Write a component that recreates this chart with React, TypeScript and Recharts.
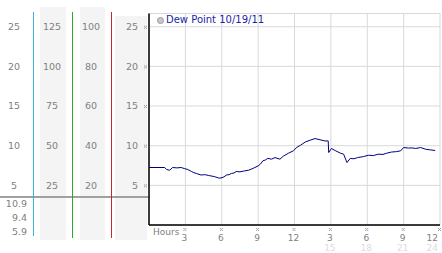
import React from 'react';
import { LineChart, Line, XAxis, YAxis, CartesianGrid } from 'recharts';

const seriesName = 'Dew Point 10/19/11';

const hours = [
  0, 1.3, 1.45, 1.7, 1.95, 2.3, 2.65, 2.95, 3.2, 3.5, 3.7, 3.9, 4.3, 4.6, 4.9, 5.4, 5.8, 6.1,
  6.4, 6.6, 6.8, 7.0, 7.2, 7.5, 7.8, 8.2, 8.6, 9.0, 9.2, 9.4, 9.6, 9.8, 10.1, 10.4, 10.8, 11.1,
  11.5, 11.9, 12.2, 12.5, 12.9, 13.3, 13.7, 14.1, 14.5, 14.78, 14.82, 15.05, 15.4, 15.8, 16.05,
  16.33, 16.6, 16.9, 17.2, 17.7, 18.1, 18.5, 18.9, 19.3, 19.6, 20.0, 20.4, 20.75, 21.0, 21.4,
  21.7, 22.0, 22.4, 22.8, 23.2, 23.6,
];

const dewPoint = [
  7.25, 7.25, 7.0, 6.9, 7.25, 7.2, 7.25, 7.1, 7.0, 6.75, 6.6, 6.5, 6.3, 6.35, 6.25, 6.1, 5.9, 6.0,
  6.3, 6.35, 6.5, 6.55, 6.75, 6.7, 6.8, 6.9, 7.15, 7.45, 7.7, 8.1, 8.2, 8.4, 8.3, 8.5, 8.3, 8.7,
  9.05, 9.35, 9.8, 10.06, 10.48, 10.7, 10.9, 10.75, 10.6, 10.6, 9.14, 9.65, 9.35, 9.05, 8.93,
  7.88, 8.4, 8.35, 8.5, 8.63, 8.8, 8.75, 8.93, 8.9, 9.05, 9.2, 9.25, 9.35, 9.77, 9.7,
  9.72, 9.65, 9.77, 9.56, 9.47, 9.4,
];

const summaryValues = ['10.9', '9.4', '5.9'];

const yTicks = [5, 10, 15, 20, 25];
const hourTicks = [3, 6, 9, 12, 15, 18, 21, 24];
const hourLabels = ['3', '6', '9', '12', '3', '6', '9', '12'];
const hour24Labels = ['', '', '', '', '15', '18', '21', '24'];

const data = hours.map((h, i) => ({ hour: h, dew: dewPoint[i] }));

const FONT = '"DejaVu Sans", Verdana, sans-serif';
const LABEL = '#808080';

function Marker({ x, y }: { x: number; y: number }) {
  const pts = [
    [0, 0],
    [2, 0],
    [1, 1],
    [0, 2],
    [2, 2],
  ];
  return (
    <g>
      {pts.map(([dx, dy], i) => (
        <rect key={i} x={x + dx} y={y + dy} width={1} height={1} fill="#a0a0a0" />
      ))}
    </g>
  );
}

function LeftTick(props: any) {
  const { y, payload } = props;
  const v = payload.value as number;
  const t = { fontFamily: FONT, fontSize: 9.5, fill: LABEL };
  return (
    <g>
      <text x={14} y={y} dy="0.35em" textAnchor="middle" {...t}>{v}</text>
      <text x={52} y={y} dy="0.35em" textAnchor="middle" {...t}>{v * 5}</text>
      <text x={91} y={y} dy="0.35em" textAnchor="middle" {...t}>{v * 4}</text>
      <text x={138} y={y} dy="0.35em" textAnchor="end" {...t}>{v}</text>
      <Marker x={144} y={y - 1} />
    </g>
  );
}

function HourTick(props: any) {
  const { x, payload, index } = props;
  const last = index === hourTicks.length - 1;
  const t = {
    fontFamily: FONT,
    fontSize: 9,
    textAnchor: last ? ('end' as const) : ('middle' as const),
  };
  const tx = last ? x - 2 : x - 1;
  return (
    <g>
      <Marker x={x - 2} y={228} />
      <text x={tx} y={237.5} dy="0.35em" fill={LABEL} {...t}>{hourLabels[index]}</text>
      <text x={tx} y={248} dy="0.35em" fill="#dcdcdc" {...t}>{hour24Labels[index]}</text>
    </g>
  );
}

const box = (style: React.CSSProperties): React.CSSProperties => ({ position: 'absolute', ...style });

export default function App() {
  return (
    <div style={{ position: 'absolute', left: 0, top: 0, width: 442, height: 253, background: '#fff', fontFamily: FONT }}>
      <div style={box({ left: 40, top: 7, width: 26, height: 233, background: '#f4f4f4' })} />
      <div style={box({ left: 80, top: 7, width: 25, height: 233, background: '#f4f4f4' })} />
      <div style={box({ left: 115, top: 16, width: 32, height: 224, background: '#f4f4f4' })} />
      <div style={box({ left: 0, top: 196, width: 150, height: 2, background: '#a0a0a0' })} />
      <div style={box({ left: 33, top: 12, width: 1, height: 224, background: '#3cb4d8' })} />
      <div style={box({ left: 72, top: 12, width: 1, height: 226, background: '#2fa62f' })} />
      <div style={box({ left: 111, top: 12, width: 1, height: 226, background: '#c02a2a' })} />
      {summaryValues.map((s, i) => (
        <div
          key={s}
          style={box({ left: 0, width: 27, top: 198 + i * 14, textAlign: 'right', fontSize: 9.5, color: LABEL, lineHeight: '12px' })}
        >
          {s}
        </div>
      ))}
      <div style={box({ left: 0, top: 0 })}>
        <LineChart width={442} height={253} data={data} margin={{ top: 13.5, right: 2, bottom: 0, left: 0 }}>
          <CartesianGrid stroke="#d9d9d9" strokeWidth={1} />
          <XAxis
            dataKey="hour"
            type="number"
            domain={[0, 24]}
            ticks={hourTicks}
            height={28}
            axisLine={{ stroke: '#000', strokeWidth: 1.5 }}
            tickLine={false}
            tick={<HourTick />}
            interval={0}
          />
          <YAxis
            type="number"
            domain={[0, 26.67]}
            ticks={yTicks}
            width={149}
            axisLine={{ stroke: '#000', strokeWidth: 1.5 }}
            tickLine={false}
            tick={<LeftTick />}
            interval={0}
          />
          <Line
            dataKey="dew"
            name={seriesName}
            type="linear"
            stroke="#00007f"
            strokeWidth={1}
            dot={false}
            isAnimationActive={false}
          />
        </LineChart>
      </div>
      <div style={box({ left: 153, top: 225, fontSize: 9, color: LABEL, lineHeight: '14px' })}>Hours</div>
      <div style={box({ left: 157, top: 14, display: 'flex', alignItems: 'center', fontSize: 10, color: '#1c24a8', lineHeight: '12px' })}>
        <span
          style={{ display: 'inline-block', width: 5, height: 5, borderRadius: 4, background: '#c8c8c8', border: '1px solid #9a9a9a', marginRight: 2 }}
        />
        {seriesName}
      </div>
    </div>
  );
}
